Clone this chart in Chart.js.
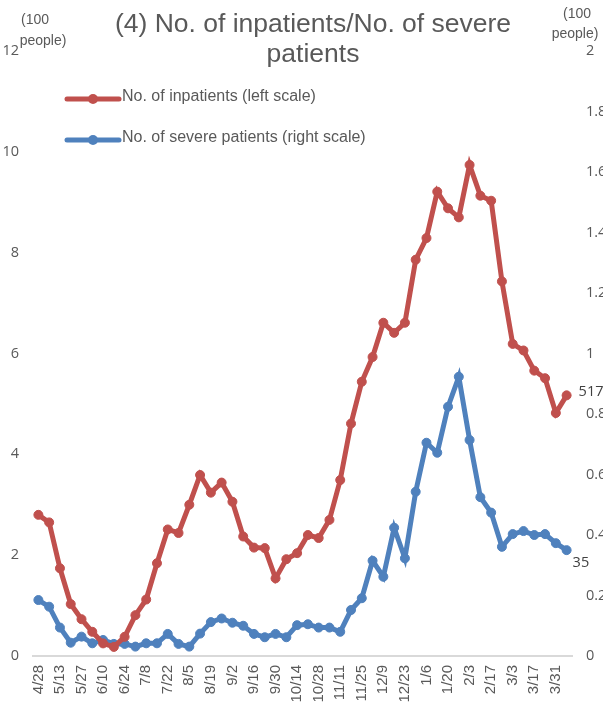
<!DOCTYPE html>
<html><head><meta charset="utf-8">
<script src="https://cdn.jsdelivr.net/npm/chart.js@4/dist/chart.umd.min.js"></script>
<style>html,body{margin:0;padding:0;background:#fff;overflow:hidden}#wrap{position:absolute;left:0;top:0;width:603px;height:707px}</style>
</head><body><div id="wrap"><canvas id="c"></canvas></div>
<script>
const titleLines = ['(4) No. of inpatients/No. of severe', 'patients'];
const unitLabel = ['(100', 'people)'];
const categories = ['4/28','5/6','5/13','5/20','5/27','6/3','6/10','6/17','6/24','7/1','7/8','7/15','7/22','7/29','8/5','8/12','8/19','8/26','9/2','9/9','9/16','9/23','9/30','10/7','10/14','10/21','10/28','11/4','11/11','11/18','11/25','12/2','12/9','12/16','12/23','12/30','1/6','1/13','1/20','1/27','2/3','2/10','2/17','2/24','3/3','3/10','3/17','3/24','3/31','4/7'];
const inpatients = [2.80,2.65,1.74,1.03,0.73,0.48,0.25,0.18,0.38,0.81,1.12,1.84,2.51,2.44,3.00,3.59,3.24,3.44,3.06,2.37,2.15,2.14,1.54,1.92,2.04,2.40,2.34,2.70,3.49,4.61,5.44,5.93,6.61,6.41,6.61,7.86,8.29,9.21,8.88,8.70,9.74,9.13,9.03,7.43,6.19,6.06,5.66,5.51,4.82,5.17];
const severe = [0.185,0.163,0.094,0.044,0.064,0.042,0.053,0.040,0.040,0.031,0.042,0.042,0.073,0.040,0.031,0.074,0.112,0.124,0.110,0.100,0.073,0.062,0.073,0.062,0.102,0.105,0.094,0.094,0.080,0.152,0.191,0.315,0.262,0.424,0.323,0.543,0.705,0.672,0.824,0.923,0.714,0.525,0.474,0.361,0.403,0.413,0.400,0.403,0.373,0.35];
const seriesNames = ['No. of inpatients (left scale)', 'No. of severe patients (right scale)'];
const leftAxis = {min: 0, max: 12, step: 2};
const rightAxis = {min: 0, max: 2, step: 0.2};

const RED = '#C0504D', BLUE = '#4F81BD', TXT = '#595959';
const SANS = '"Liberation Sans", Arial, sans-serif';
const TICKF = '"Open Sans", "Liberation Sans", sans-serif';

const overlay = {
  id: 'overlay',
  afterDraw(chart) {
    const ctx = chart.ctx;
    ctx.save();
    // title
    ctx.fillStyle = TXT;
    ctx.font = '26.5px ' + SANS;
    ctx.textAlign = 'center';
    ctx.textBaseline = 'middle';
    ctx.fillText(titleLines[0], 313, 25);
    ctx.fillText(titleLines[1], 313, 55);
    // unit labels
    ctx.font = '14px ' + SANS;
    ctx.fillText(unitLabel[0], 35, 20);
    ctx.fillText(unitLabel[1], 43, 41);
    ctx.fillText(unitLabel[0], 577, 14);
    ctx.fillText(unitLabel[1], 575, 34);
    // legend
    const ys = [97, 138];
    chart.data.datasets.forEach((ds, i) => {
      const y = ys[i];
      ctx.strokeStyle = ds.borderColor;
      ctx.lineWidth = 5;
      ctx.lineCap = 'round';
      ctx.beginPath(); ctx.moveTo(67, y + 2); ctx.lineTo(119, y + 2); ctx.stroke();
      ctx.fillStyle = ds.borderColor;
      ctx.beginPath(); ctx.arc(93, y + 2, 5, 0, Math.PI * 2); ctx.fill();
      ctx.fillStyle = TXT;
      ctx.font = '16px ' + SANS;
      ctx.textAlign = 'left';
      ctx.textBaseline = 'middle';
      ctx.fillText(ds.label, 122, y);
    });
    // data labels
    ctx.fillStyle = '#404040';
    ctx.font = '14.5px ' + TICKF;
    ctx.textAlign = 'left';
    ctx.textBaseline = 'middle';
    const m0 = chart.getDatasetMeta(0).data, m1 = chart.getDatasetMeta(1).data;
    const p0 = m0[m0.length - 1], p1 = m1[m1.length - 1];
    ctx.fillText(String(Math.round(inpatients[inpatients.length - 1] * 100)), p0.x + 12, p0.y - 3);
    ctx.fillText(String(Math.round(severe[severe.length - 1] * 100)), p1.x + 6, p1.y + 13);
    ctx.restore();
  }
};

new Chart(document.getElementById('c'), {
  type: 'line',
  data: {
    labels: categories,
    datasets: [
      {label: seriesNames[0], data: inpatients, yAxisID: 'yL', borderColor: RED, backgroundColor: RED,
       borderWidth: 5, pointRadius: 4.5, pointBorderWidth: 1, pointBackgroundColor: RED, pointBorderColor: RED, tension: 0},
      {label: seriesNames[1], data: severe, yAxisID: 'yR', borderColor: BLUE, backgroundColor: BLUE,
       borderWidth: 5, pointRadius: 4.5, pointBorderWidth: 1, pointBackgroundColor: BLUE, pointBorderColor: BLUE, tension: 0}
    ]
  },
  options: {
    responsive: true,
    maintainAspectRatio: false,
    animation: false,
    devicePixelRatio: 1,
    layout: {padding: {top: 51, left: 0, right: 0, bottom: 0}},
    plugins: {
      legend: {display: false},
      tooltip: {enabled: false},
      title: {display: false}
    },
    scales: {
      x: {
        offset: true,
        grid: {display: false, drawTicks: false},
        border: {display: true, color: '#D9D9D9', width: 2},
        ticks: {autoSkip: false, maxRotation: 90, minRotation: 90, padding: 9, color: TXT,
          font: {family: SANS, size: 15},
          callback: (v, i) => (i % 2 === 0 ? categories[i] : '')},
        afterFit: (s) => { s.height = 51; }
      },
      yL: {
        position: 'left', min: leftAxis.min, max: leftAxis.max,
        grid: {display: false, drawTicks: false}, border: {display: false},
        ticks: {stepSize: leftAxis.step, padding: 14, color: TXT, font: {family: TICKF, size: 14.5}},
        afterFit: (s) => { s.width = 33; }
      },
      yR: {
        position: 'right', min: rightAxis.min, max: rightAxis.max,
        grid: {display: false, drawTicks: false}, border: {display: false},
        ticks: {stepSize: rightAxis.step, padding: 14, color: TXT, font: {family: TICKF, size: 14.5},
          callback: (v) => String(Number(Number(v).toFixed(1)))},
        afterFit: (s) => { s.width = 31; }
      }
    }
  },
  plugins: [overlay]
});
</script></body></html>
